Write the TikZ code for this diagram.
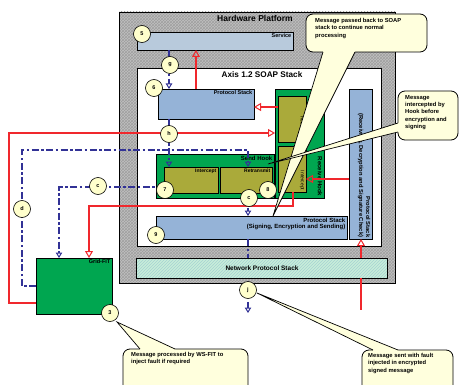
\documentclass[tikz,border=0pt]{standalone}
\usepackage{fontspec}
\setmainfont{Liberation Sans}
\usetikzlibrary{arrows.meta,patterns,calc}
\definecolor{hwgray}{RGB}{192,192,192}
\definecolor{svcblue}{RGB}{184,202,220}
\definecolor{psblue}{RGB}{149,179,215}
\definecolor{hookgreen}{RGB}{0,166,80}
\definecolor{olivebox}{RGB}{170,170,58}
\definecolor{netgreen}{RGB}{200,238,218}
\definecolor{myred}{RGB}{240,40,45}
\definecolor{myblue}{RGB}{50,50,150}
\definecolor{callfill}{RGB}{255,255,221}
\definecolor{circfill}{RGB}{255,255,204}
\begin{document}
\begin{tikzpicture}[x=1pt,y=-1pt,
  box/.style={draw=black, line width=0.6pt, inner sep=0pt, outer sep=0pt, anchor=north west},
  lbl/.style={font=\bfseries\fontsize{5.5}{6.2}\selectfont, inner sep=1.5pt},
  num/.style={circle, draw=black, line width=0.6pt, fill=circfill, minimum size=17pt, inner sep=0pt, font=\bfseries\fontsize{5.5}{6}\selectfont},
  redline/.style={draw=myred, line width=1.6pt},
  redarr/.style={redline, -{Triangle[open, length=7pt, width=8pt, line width=1pt]}},
  blueline/.style={draw=myblue, line width=1.6pt, dash pattern=on 7pt off 2.5pt on 2.5pt off 2.5pt},
  bluearr/.style={blueline, -{Triangle[open, length=5.5pt, width=6.5pt, line width=1pt]}},
  callbox/.style={draw=black, line width=0.8pt, fill=callfill, rounded corners=7pt, inner sep=0pt, outer sep=0pt, anchor=north west},
  calltext/.style={font=\bfseries\fontsize{5.8}{7.4}\selectfont, align=left, anchor=north west, inner sep=0pt},
  wedgefill/.style={fill=callfill},
  wedgeline/.style={draw=black, line width=0.7pt}
]
\useasboundingbox (0,0) rectangle (460,385);

% ---------- boxes ----------
\node[box, preaction={fill=hwgray}, pattern=crosshatch, pattern color=gray!75, minimum width=276pt, minimum height=271pt] (hw) at (119,12) {};
\node[font=\bfseries\fontsize{8.5}{10}\selectfont] (hwt) at (255,18) {Hardware Platform};

\node[box, fill=svcblue, minimum width=156pt, minimum height=18pt] (svc) at (137,32) {};
\node[lbl, anchor=north east] (svct) at (svc.north east) {Service};

\node[box, fill=white, minimum width=244pt, minimum height=178pt] (axis) at (137,68) {};
\node[font=\bfseries\fontsize{8.2}{10}\selectfont] (axist) at (262,75) {Axis 1.2 SOAP Stack};

\node[box, fill=psblue, minimum width=96pt, minimum height=30pt] (ps1) at (158,89) {};
\node[lbl, anchor=north east] (ps1t) at (ps1.north east) {Protocol Stack};

% receive hook
\node[box, fill=hookgreen, minimum width=49pt, minimum height=109pt] (rh) at (275,89) {};
\node[box, fill=olivebox, minimum width=28pt, minimum height=46pt] (rret) at (278,96) {};
\node[box, fill=olivebox, minimum width=28pt, minimum height=46pt] (rint) at (278,146) {};
\node[lbl, rotate=-90, anchor=north east, font=\bfseries\fontsize{6}{7}\selectfont] (rht) at (rh.south east) {Receive Hook};
\node[lbl, rotate=-90, anchor=north east, font=\fontsize{5}{6}\selectfont] (rrett) at (rret.south east) {Retransmit};
\node[lbl, rotate=-90, anchor=north east, font=\fontsize{5}{6}\selectfont] (rintt) at (rint.south east) {Intercept};

% right protocol stack
\node[box, fill=psblue, minimum width=23pt, minimum height=150pt] (psr) at (349,89) {};
\node[rotate=-90, anchor=north east, align=right, inner sep=1.5pt, font=\bfseries\fontsize{5.8}{7}\selectfont] (psrt) at (psr.south east) {Protocol Stack\\(Receiving, Decryption and Signature Check)};

% send hook
\node[box, fill=hookgreen, minimum width=118pt, minimum height=44pt] (sh) at (156,154) {};
\node[lbl, anchor=north east, font=\bfseries\fontsize{6}{7}\selectfont] (sht) at (sh.north east) {Send Hook};
\node[box, fill=olivebox, minimum width=54pt, minimum height=26pt] (sint) at (164,167) {};
\node[lbl, anchor=north east, font=\bfseries\fontsize{5}{6}\selectfont] (sintt) at (sint.north east) {Intercept};
\node[box, fill=olivebox, minimum width=52pt, minimum height=26pt] (sret) at (220,167) {};
\node[lbl, anchor=north east, font=\bfseries\fontsize{5}{6}\selectfont] (srett) at (sret.north east) {Retransmit};

% bottom protocol stack
\node[box, fill=psblue, minimum width=191pt, minimum height=23pt] (ps2) at (156,216) {};
\node[anchor=north east, align=right, inner sep=1.5pt, font=\bfseries\fontsize{6}{6.6}\selectfont] (ps2t) at (ps2.north east) {Protocol Stack\\(Signing, Encryption and Sending)};

% network protocol stack
\node[box, preaction={fill=netgreen}, pattern=north east lines, pattern color=teal!35, minimum width=251pt, minimum height=20pt] (net) at (136,258) {};
\node[font=\bfseries\fontsize{6.5}{7.5}\selectfont] (nett) at (262,268) {Network Protocol Stack};

% grid-fit
\node[box, fill=hookgreen, minimum width=76pt, minimum height=56pt] (gf) at (36,258) {};
\node[lbl, anchor=north east] (gft) at (gf.north east) {Grid-FIT};

% ---------- helper coordinates ----------
\coordinate (xa) at (196,0);
\coordinate (ya) at (0,107);
\coordinate (r1) at (9,303);
\coordinate (r2) at (9,133);
\coordinate (yb) at (0,179);
\coordinate (xb) at (361,0);
\coordinate (rend) at (361,310);
\coordinate (rc) at (293,206);
\coordinate (xg) at (89,0);
\coordinate (xv) at (169,0);
\coordinate (b1) at (22,286);
\coordinate (b2) at (22,150);
\coordinate (xr) at (248,0);
\coordinate (b3) at (59,187);
\coordinate (jend) at (248,313);

% ---------- red connectors ----------
\draw[redarr] (ps1.north -| xa) -- (svc.south -| xa);
\draw[redarr] (rret.west |- ya) -- (ps1.east |- ya);
\draw[redarr] (r1 -| gf.west) -- (r1) -- (r2) -- (r2 -| rh.west);
\draw[redarr] (psr.west |- yb) -- (rint.east |- yb);
\draw[redarr] (net.north -| xb) -- (psr.south -| xb);
\draw[redline] (net.south -| xb) -- (rend);
\draw[redarr] (rint.south -| rc) -- (rc) -- (rc -| xg) -- (gf.north -| xg);

% ---------- blue connectors ----------
\draw[bluearr] (svc.south -| xv) -- (ps1.north -| xv);
\draw[bluearr] (ps1.south -| xv) -- (sint.north -| xv);
\draw[bluearr] (b1 -| gf.west) -- (b1) -- (b2) -- (b2 -| xr) -- (sret.north -| xr);
\draw[bluearr] (sint.west |- b3) -- (b3) -- (gf.north -| b3);
\draw[bluearr] (sret.south -| xr) -- (ps2.north -| xr);
\draw[blueline] (ps2.south -| xr) -- (net.north -| xr);

% ---------- numbered circles ----------
\node[num] (c5) at (142,34) {5};
\node[num] (cg) at (170,65) {g};
\node[num] (c6) at (154,88) {6};
\node[num] (ch) at (169,134) {h};
\node[num] (c7) at (165,190) {7};
\node[num] (c8) at (268,190) {8};
\node[num] (cc2) at (249,198) {c};
\node[num] (c9) at (156,235) {9};
\node[num] (cj) at (248,290) {j};
\node[num] (cd) at (22,209) {d};
\node[num] (cc1) at (98,186) {c};
\node[num] (c3) at (110,313) {3};

\draw[bluearr] ($(cj.south)+(0,3)$) -- (jend);

% ---------- callouts ----------
% A
\node[callbox, minimum width=121pt, minimum height=38pt] (ca) at (306,14) {};
\coordinate (ta) at (273,216);
\coordinate (a1) at (323,52);
\coordinate (a2) at (355,52);
\fill[wedgefill] ($(a1)+(0,-2)$) -- (a1) -- (ta) -- (a2) -- ($(a2)+(0,-2)$) -- cycle;
\draw[wedgeline] (a1) -- (ta) -- (a2);
\node[calltext] (cat) at (315,18) {Message passed back to SOAP\\stack to continue normal\\processing};

% B
\node[callbox, minimum width=60pt, minimum height=49pt] (cb) at (398,91) {};
\coordinate (tb) at (268,164);
\coordinate (bb1) at (398,123);
\coordinate (bb2) at (398,132);
\fill[wedgefill] ($(bb1)+(2,0)$) -- (bb1) -- (tb) -- (bb2) -- ($(bb2)+(2,0)$) -- cycle;
\draw[wedgeline] (bb1) -- (tb) -- (bb2);
\node[calltext] (cbt) at (405,95) {Message\\intercepted by\\Hook before\\encryption and\\signing};

% C
\node[callbox, minimum width=125pt, minimum height=45pt] (cc) at (123,349) {};
\coordinate (tc) at (117,322);
\coordinate (cc3) at (140,349);
\coordinate (cc4) at (175,349);
\fill[wedgefill] ($(cc3)+(0,2)$) -- (cc3) -- (tc) -- (cc4) -- ($(cc4)+(0,2)$) -- cycle;
\draw[wedgeline] (cc3) -- (tc) -- (cc4);
\node[calltext] (cct) at (131,352) {Message processed by WS-FIT to\\inject fault if required};

% D
\node[callbox, minimum width=91pt, minimum height=45pt] (cdb) at (362,350) {};
\coordinate (td) at (257,293);
\coordinate (d1) at (373,350);
\coordinate (d2) at (398,350);
\fill[wedgefill] ($(d1)+(0,2)$) -- (d1) -- (td) -- (d2) -- ($(d2)+(0,2)$) -- cycle;
\draw[wedgeline] (d1) -- (td) -- (d2);
\node[calltext] (cdt) at (368,353) {Message sent with fault\\injected in encrypted\\signed message};
\end{tikzpicture}
\end{document}
